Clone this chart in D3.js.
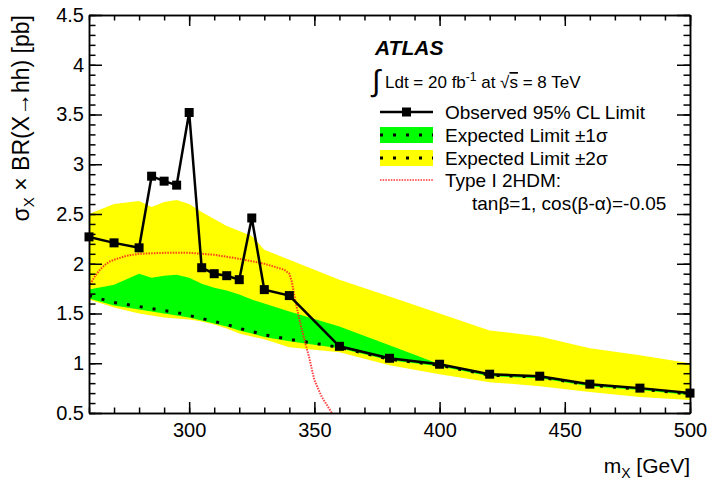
<!DOCTYPE html>
<html><head><meta charset="utf-8">
<script src="https://cdn.jsdelivr.net/npm/d3@7"></script>
<style>
body{margin:0;background:#fff;}
text{font-family:"Liberation Sans",Arial,Helvetica,sans-serif;fill:#000;}
</style></head>
<body><svg id="c" width="709" height="482"></svg>
<script>
// ---- data ----
const masses   = [260,270,280,285,290,295,300,305,310,315,320,325,330,340,360,380,400,420,440,460,480,500];
const observed = [2.27,2.21,2.16,2.88,2.83,2.79,3.52,1.96,1.90,1.88,1.84,2.46,1.74,1.68,1.17,1.05,0.99,0.89,0.87,0.79,0.75,0.70];
const expMedian= [1.68,1.61,1.57,1.55,1.53,1.51,1.48,1.45,1.42,1.39,1.35,1.32,1.285,1.24,1.16,1.04,0.98,0.88,0.86,0.78,0.74,0.69];
const exp1Up   = [1.74,1.79,1.90,1.86,1.88,1.89,1.86,1.80,1.76,1.73,1.69,1.64,1.60,1.52,1.37,1.18,0.99,0.89,0.87,0.79,0.75,0.70];
const exp1Dn   = [1.65,1.58,1.54,1.52,1.50,1.48,1.46,1.43,1.40,1.37,1.33,1.30,1.265,1.22,1.15,1.03,0.97,0.87,0.85,0.77,0.73,0.68];
const exp2Up   = [2.50,2.60,2.63,2.57,2.62,2.64,2.60,2.52,2.45,2.38,2.33,2.28,2.14,2.04,1.84,1.67,1.50,1.33,1.27,1.15,1.08,1.00];
const exp2Dn   = [1.64,1.56,1.50,1.48,1.46,1.45,1.44,1.42,1.39,1.35,1.30,1.27,1.24,1.16,1.11,0.98,0.89,0.81,0.77,0.71,0.66,0.63];
const hdmMass  = [260,262,264,266,268,270,275,280,290,300,310,320,330,338,340,341,342,344,346,348,350,353,357,360];
const hdmXsec  = [1.77,1.86,1.93,1.98,2.02,2.04,2.08,2.10,2.11,2.11,2.09,2.05,2.00,1.94,1.90,1.82,1.68,1.44,1.24,1.05,0.83,0.66,0.50,0.40];
const xTickLabels = [300,350,400,450,500];
const yTickLabels = [0.5,1,1.5,2,2.5,3,3.5,4,4.5];
const legendLabels = ["Observed 95% CL Limit","Expected Limit \u00B11\u03C3","Expected Limit \u00B12\u03C3","Type I 2HDM:","tan\u03B2=1, cos(\u03B2-\u03B1)=-0.05"];

// ---- layout ----
const W=709,H=482, L=89,R=690,T=15,B=413;
const svg=d3.select("#c");
const x=d3.scaleLinear().domain([260,500]).range([L,R]);
const y=d3.scaleLinear().domain([0.5,4.5]).range([B,T]);
const rows=masses.map((m,i)=>({m,obs:observed[i],med:expMedian[i],u1:exp1Up[i],d1:exp1Dn[i],u2:exp2Up[i],d2:exp2Dn[i]}));

svg.append("defs").append("clipPath").attr("id","clip").append("rect").attr("x",L).attr("y",T).attr("width",R-L).attr("height",B-T);
const plot=svg.append("g").attr("clip-path","url(#clip)");

const band=(lo,hi)=>d3.area().x(d=>x(d.m)).y0(d=>y(d[lo])).y1(d=>y(d[hi]));
plot.append("path").datum(rows).attr("d",band("d2","u2")).attr("fill","#ffff00");
plot.append("path").datum(rows).attr("d",band("d1","u1")).attr("fill","#00ff00");
plot.append("path").datum(rows).attr("d",d3.line().x(d=>x(d.m)).y(d=>y(d.med)))
  .attr("fill","none").attr("stroke","#000").attr("stroke-width",3).attr("stroke-dasharray","3,10");
plot.append("path").datum(hdmMass.map((m,i)=>[m,hdmXsec[i]])).attr("d",d3.line().x(d=>x(d[0])).y(d=>y(d[1])))
  .attr("fill","none").attr("stroke","#ff2020").attr("stroke-width",2).attr("stroke-dasharray","1.5,1.2").attr("opacity",0.85);
plot.append("path").datum(rows).attr("d",d3.line().x(d=>x(d.m)).y(d=>y(d.obs)))
  .attr("fill","none").attr("stroke","#000").attr("stroke-width",2.5);
svg.append("g").selectAll("rect").data(rows).join("rect")
  .attr("x",d=>x(d.m)-4.5).attr("y",d=>y(d.obs)-4.5).attr("width",9).attr("height",9).attr("fill","#000");

// ---- axes ----
const xMinor=d3.range(260,501,10), yMinor=d3.range(5,46,1).map(v=>v/10);
function styleAxis(g){g.selectAll("path,line").attr("stroke","#000").attr("stroke-width",1.5);g.selectAll("text").attr("font-size",20).attr("fill","#000").attr("font-family","Liberation Sans, Arial, sans-serif");}
svg.append("g").attr("transform",`translate(0,${B})`).call(d3.axisBottom(x).tickValues(xTickLabels).tickSize(-11).tickSizeOuter(0).tickPadding(10).tickFormat(d3.format("d"))).call(styleAxis);
svg.append("g").attr("transform",`translate(0,${B})`).call(d3.axisBottom(x).tickValues(xMinor).tickSize(-5.5).tickSizeOuter(0).tickFormat("")).call(styleAxis);
svg.append("g").attr("transform",`translate(0,${T})`).call(d3.axisTop(x).tickValues(xTickLabels).tickSize(-11).tickSizeOuter(0).tickFormat("")).call(styleAxis);
svg.append("g").attr("transform",`translate(0,${T})`).call(d3.axisTop(x).tickValues(xMinor).tickSize(-5.5).tickSizeOuter(0).tickFormat("")).call(styleAxis);
svg.append("g").attr("transform",`translate(${L},0)`).call(d3.axisLeft(y).tickValues(yTickLabels).tickSize(-13).tickSizeOuter(0).tickPadding(5).tickFormat(d=>String(d))).call(styleAxis);
svg.append("g").attr("transform",`translate(${L},0)`).call(d3.axisLeft(y).tickValues(yMinor).tickSize(-6.5).tickSizeOuter(0).tickFormat("")).call(styleAxis);
svg.append("g").attr("transform",`translate(${R},0)`).call(d3.axisRight(y).tickValues(yTickLabels).tickSize(-13).tickSizeOuter(0).tickFormat("")).call(styleAxis);
svg.append("g").attr("transform",`translate(${R},0)`).call(d3.axisRight(y).tickValues(yMinor).tickSize(-6.5).tickSizeOuter(0).tickFormat("")).call(styleAxis);

// axis titles
const xt=svg.append("text").attr("x",R).attr("y",473).attr("text-anchor","end").attr("font-size",21);
xt.append("tspan").text("m");
xt.append("tspan").attr("font-size",14).attr("dy",5).text("X");
xt.append("tspan").attr("dy",-5).text(" [GeV]");
const yt=svg.append("text").attr("transform",`translate(29,${T}) rotate(-90)`).attr("text-anchor","end").attr("font-size",23);
yt.append("tspan").text("\u03C3");
yt.append("tspan").attr("font-size",15).attr("dy",5).text("X");
yt.append("tspan").attr("dy",-5).text(" \u00D7 BR(X\u2192hh) [pb]");

// ---- legend ----
svg.append("text").attr("x",375).attr("y",55).attr("font-size",21).attr("font-weight","bold").attr("font-style","italic").text("ATLAS");
svg.append("text").attr("x",372).attr("y",91).attr("font-size",30).attr("font-weight","normal").text("\u222B");
const lt=svg.append("text").attr("x",385).attr("y",88).attr("font-size",17);
lt.append("tspan").text("Ldt = 20 fb");
lt.append("tspan").attr("font-size",12).attr("dy",-7).text("-1");
lt.append("tspan").attr("dy",7).text(" at \u221A");
lt.append("tspan").style("text-decoration","overline").text("s");
lt.append("tspan").text(" = 8 TeV");

const lx0=380,lx1=433,tx=445, rowY=[112,135,158,180,203];
const lg=svg.append("g");
lg.append("line").attr("x1",lx0).attr("x2",lx1).attr("y1",rowY[0]).attr("y2",rowY[0]).attr("stroke","#000").attr("stroke-width",2.5);
lg.append("rect").attr("x",(lx0+lx1)/2-4.5).attr("y",rowY[0]-4.5).attr("width",9).attr("height",9);
[["#00ff00",1],["#ffff00",2]].forEach(([c,i])=>{
  lg.append("rect").attr("x",lx0).attr("y",rowY[i]-8).attr("width",lx1-lx0).attr("height",16).attr("fill",c);
  lg.append("line").attr("x1",lx0).attr("x2",lx1).attr("y1",rowY[i]).attr("y2",rowY[i]).attr("stroke","#000").attr("stroke-width",3).attr("stroke-dasharray","3,10");
});
lg.append("line").attr("x1",lx0).attr("x2",lx1).attr("y1",rowY[3]).attr("y2",rowY[3]).attr("stroke","#ff2020").attr("stroke-width",2).attr("stroke-dasharray","1.5,1.2").attr("opacity",0.7);
legendLabels.forEach((t,i)=>{
  lg.append("text").attr("x",i===4?472:tx).attr("y",rowY[i]+6.8).attr("font-size",19).text(t);
});
</script></body></html>
